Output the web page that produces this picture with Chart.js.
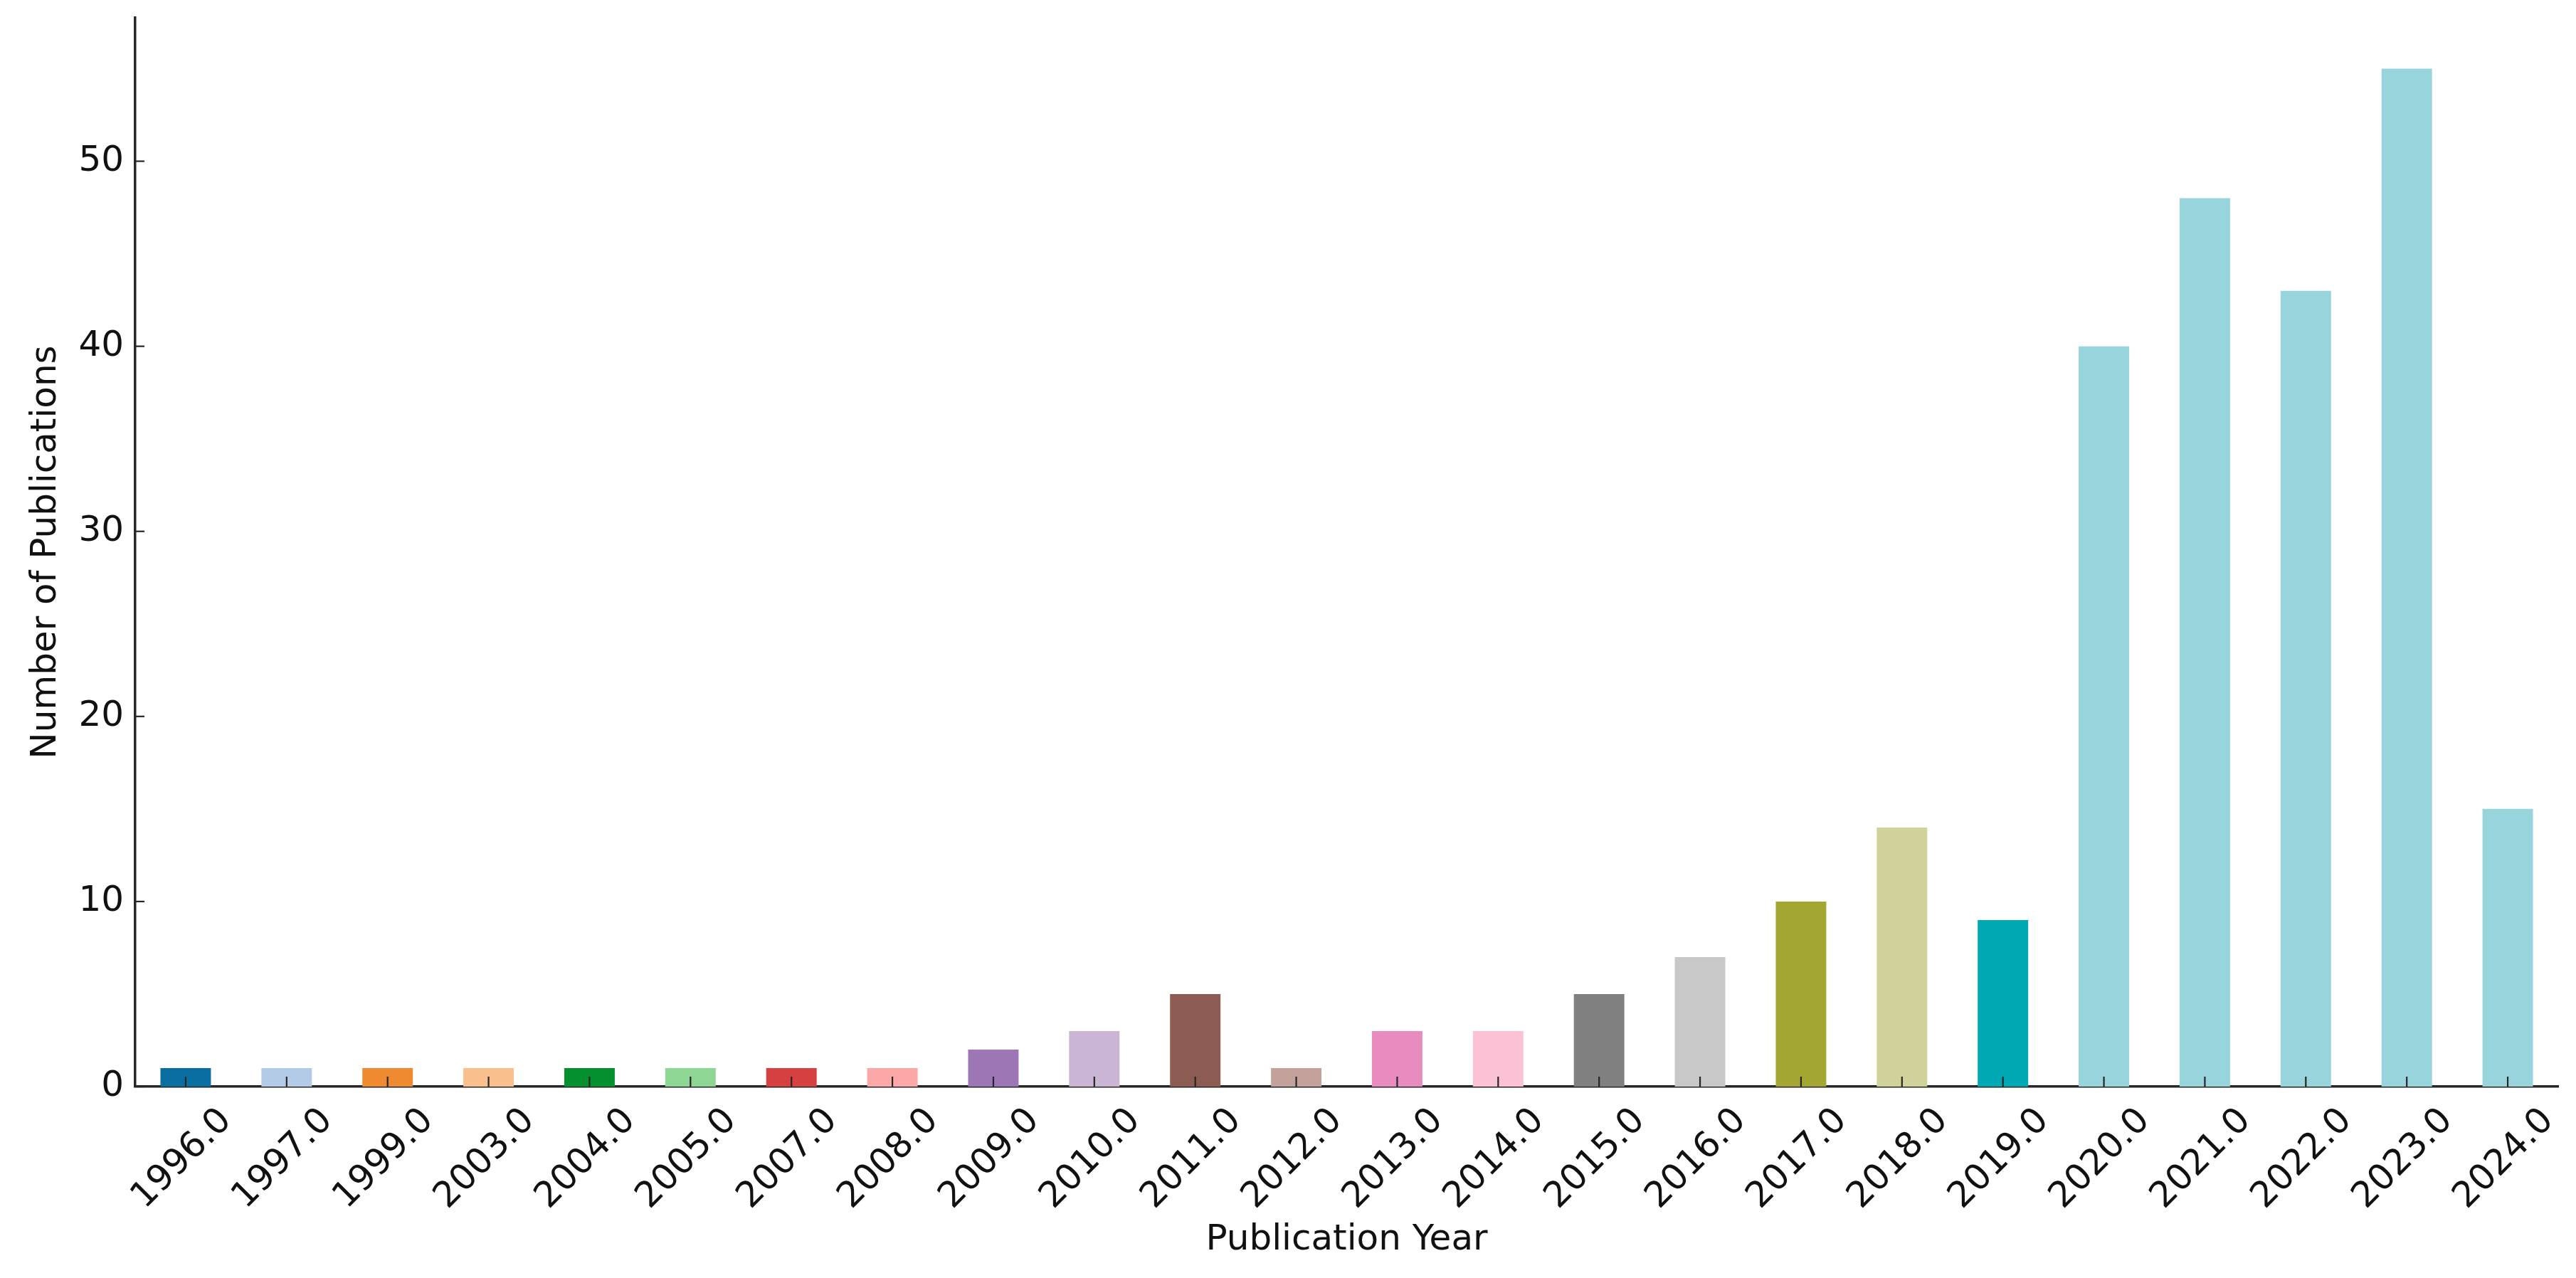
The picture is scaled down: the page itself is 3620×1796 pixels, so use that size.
<!DOCTYPE html>
<html><head><meta charset="utf-8">
<script src="https://cdn.jsdelivr.net/npm/chart.js@4.4.1/dist/chart.umd.min.js"></script>
<style>html,body{margin:0;padding:0;background:#fff;} #c{display:block;width:3620px;height:1796px;}</style>
</head><body>
<canvas id="c" width="3620" height="1796"></canvas>
<script>
const years = ['1996.0','1997.0','1999.0','2003.0','2004.0','2005.0','2007.0','2008.0','2009.0','2010.0','2011.0','2012.0','2013.0','2014.0','2015.0','2016.0','2017.0','2018.0','2019.0','2020.0','2021.0','2022.0','2023.0','2024.0'];
const counts = [1,1,1,1,1,1,1,1,2,3,5,1,3,3,5,7,10,14,9,40,48,43,55,15];
const barColors = ['#0a6fa0','#b3cbe6','#ef8a30','#f9bf8c','#05902f','#8ed693','#d64040','#fca8a8','#9d77b5','#cab6d4','#8c5c52','#c4a29c','#e88cc0','#fbc2d6','#808080','#c8c8c8','#a3a630','#d1d19a','#00a8b4','#98d4db','#98d4db','#98d4db','#98d4db','#98d4db'];
const yTicks = [0,10,20,30,40,50];
const yMax = 57.75;

const FONT = 'DejaVu Sans';
const TEXT = '#111111';
const AXIS = '#262626';

const inwardTicks = {
  id: 'inwardTicks',
  afterDraw(chart) {
    const {ctx, scales: {x, y}} = chart;
    ctx.save();
    ctx.strokeStyle = AXIS;
    ctx.lineWidth = 2.2;
    const b = x.top;
    x.ticks.forEach((t, i) => {
      const px = x.getPixelForTick(i);
      ctx.beginPath(); ctx.moveTo(px, b); ctx.lineTo(px, b - 14); ctx.stroke();
    });
    const l = y.right;
    y.ticks.forEach(t => {
      const py = y.getPixelForValue(t.value);
      ctx.beginPath(); ctx.moveTo(l, py); ctx.lineTo(l + 13, py); ctx.stroke();
    });
    ctx.restore();
  }
};

new Chart(document.getElementById('c'), {
  type: 'bar',
  data: {
    labels: years,
    datasets: [{
      data: counts,
      backgroundColor: barColors,
      borderWidth: 0,
      categoryPercentage: 1.0,
      barPercentage: 0.5
    }]
  },
  options: {
    responsive: false,
    animation: false,
    devicePixelRatio: 1,
    layout: {padding: {top: 25, right: 25, left: 0, bottom: 0}},
    plugins: {legend: {display: false}, tooltip: {enabled: false}},
    scales: {
      x: {
        z: 1,
        offset: true,
        grid: {display: false, drawTicks: false},
        border: {display: true, color: AXIS, width: 3.5},
        ticks: {
          autoSkip: false, minRotation: 45, maxRotation: 45,
          labelOffset: 57, padding: 19,
          color: TEXT, font: {family: FONT, size: 50}
        },
        title: {display: true, text: 'Publication Year', color: TEXT,
          font: {family: FONT, size: 50}, padding: {top: 23, bottom: 23}},
        afterFit(s) { s.height = 269; s.paddingLeft = 0; s.paddingRight = 0; }
      },
      y: {
        z: 1,
        min: 0, max: yMax,
        grid: {display: false, drawTicks: false},
        border: {display: true, color: AXIS, width: 3.5},
        afterBuildTicks(s) { s.ticks = yTicks.map(v => ({value: v})); },
        ticks: {
          padding: 16, color: TEXT, font: {family: FONT, size: 50},
          callback: v => String(v)
        },
        title: {display: true, text: 'Number of Publications', color: TEXT,
          font: {family: FONT, size: 50}, padding: {top: 35, bottom: 35}},
        afterFit(s) { s.width = 190; s.paddingTop = 0; s.paddingBottom = 0; }
      }
    }
  },
  plugins: [inwardTicks]
});
</script>
</body></html>
